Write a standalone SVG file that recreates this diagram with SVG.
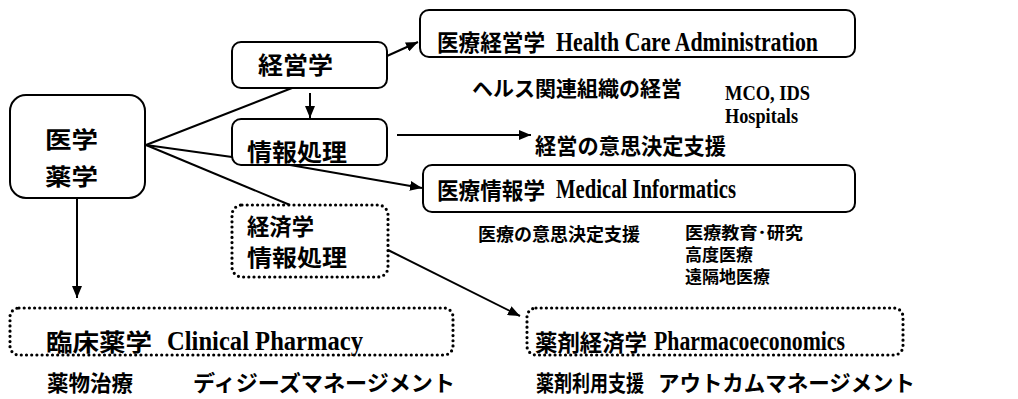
<svg xmlns="http://www.w3.org/2000/svg" width="1018" height="399" viewBox="0 0 1018 399">
<defs>
<marker id="ah" viewBox="0 0 12 10" refX="12" refY="5" markerWidth="12" markerHeight="10" markerUnits="userSpaceOnUse" orient="auto">
<path d="M0,0 L12,5 L0,10 Z" fill="#000"/>
</marker>
<style>
.box{fill:#fff;stroke:#000;stroke-width:2}
.dot{fill:#fff;stroke:#000;stroke-width:3.2;stroke-linecap:round;stroke-dasharray:0 5.2}
.jp{font-family:"Noto Sans CJK JP","Noto Sans CJK SC",sans-serif;font-weight:bold;fill:#000}
.en{font-family:"Liberation Serif","Noto Sans CJK JP",serif;font-weight:bold;fill:#000}
.ln{stroke:#000;stroke-width:2;fill:none}
.ar{stroke:#000;stroke-width:2;fill:none;marker-end:url(#ah)}
</style>
</defs>
<rect width="1018" height="399" fill="#fff"/>
<g id="connectors">
<line class="ln" x1="146" y1="145" x2="292" y2="88"/>
<line class="ln" x1="146" y1="145" x2="232" y2="157"/>
<line class="ln" x1="146" y1="145" x2="290" y2="205"/>
<line class="ar" x1="387" y1="56" x2="418" y2="42"/>
<line class="ar" x1="310" y1="93" x2="310" y2="118"/>
<line class="ar" x1="397" y1="135" x2="531" y2="135"/>
<line class="ar" x1="290" y1="165" x2="422" y2="188"/>
<line class="ar" x1="77" y1="198" x2="77" y2="298"/>
<line class="ar" x1="388" y1="250" x2="520" y2="316"/>
</g>
<g id="n-igaku">
<rect class="box" x="10" y="95" width="135" height="103" rx="16"/>
<text class="jp" x="45" y="148" font-size="23" textLength="53" lengthAdjust="spacingAndGlyphs">医学</text>
<text class="jp" x="45" y="185" font-size="23" textLength="53" lengthAdjust="spacingAndGlyphs">薬学</text>
</g>
<g id="n-keiei">
<rect class="box" x="232" y="42" width="155" height="46" rx="9"/>
<text class="jp" x="258" y="74" font-size="24" textLength="75" lengthAdjust="spacingAndGlyphs">経営学</text>
</g>
<g id="n-joho">
<rect class="box" x="232" y="119" width="155" height="46" rx="9"/>
<text class="jp" x="247" y="161" font-size="24" textLength="100" lengthAdjust="spacingAndGlyphs">情報処理</text>
</g>
<g id="n-keizai">
<rect class="dot" x="232" y="205" width="156" height="72" rx="10"/>
<text class="jp" x="247" y="235" font-size="23" textLength="67" lengthAdjust="spacingAndGlyphs">経済学</text>
<text class="jp" x="247" y="266" font-size="23" textLength="100" lengthAdjust="spacingAndGlyphs">情報処理</text>
</g>
<g id="n-hca">
<rect class="box" x="420" y="10" width="435" height="47" rx="9"/>
<text class="jp" x="437" y="51" font-size="23" textLength="108" lengthAdjust="spacingAndGlyphs">医療経営学</text>
<text class="en" x="556" y="51" font-size="27" textLength="262" lengthAdjust="spacingAndGlyphs">Health Care Administration</text>
</g>
<g id="t-health">
<text class="jp" x="472" y="96" font-size="21" textLength="210" lengthAdjust="spacingAndGlyphs">ヘルス関連組織の経営</text>
<text class="en" x="725" y="100" font-size="22" textLength="85" lengthAdjust="spacingAndGlyphs">MCO, IDS</text>
<text class="en" x="725" y="123" font-size="22" textLength="73" lengthAdjust="spacingAndGlyphs">Hospitals</text>
</g>
<g id="t-keieiishi">
<text class="jp" x="535" y="154" font-size="22" textLength="191" lengthAdjust="spacingAndGlyphs">経営の意思決定支援</text>
</g>
<g id="n-mi">
<rect class="box" x="423" y="165" width="432" height="47" rx="9"/>
<text class="jp" x="437" y="199" font-size="23" textLength="108" lengthAdjust="spacingAndGlyphs">医療情報学</text>
<text class="en" x="556" y="198" font-size="27" textLength="180" lengthAdjust="spacingAndGlyphs">Medical Informatics</text>
</g>
<g id="t-mi">
<text class="jp" x="478" y="241" font-size="18" textLength="162" lengthAdjust="spacingAndGlyphs">医療の意思決定支援</text>
<text class="jp" x="685" y="239" font-size="17" textLength="118" lengthAdjust="spacingAndGlyphs">医療教育･研究</text>
<text class="jp" x="685" y="261" font-size="17" textLength="68" lengthAdjust="spacingAndGlyphs">高度医療</text>
<text class="jp" x="685" y="283" font-size="17" textLength="85" lengthAdjust="spacingAndGlyphs">遠隔地医療</text>
</g>
<g id="n-cp">
<rect class="dot" x="10" y="308" width="443" height="47" rx="9"/>
<text class="jp" x="46" y="351" font-size="24" textLength="106" lengthAdjust="spacingAndGlyphs">臨床薬学</text>
<text class="en" x="167" y="350" font-size="27" textLength="196" lengthAdjust="spacingAndGlyphs">Clinical Pharmacy</text>
</g>
<g id="n-pe">
<rect class="dot" x="527" y="308" width="376" height="47" rx="9"/>
<text class="jp" x="535" y="351" font-size="23" textLength="112" lengthAdjust="spacingAndGlyphs">薬剤経済学</text>
<text class="en" x="654" y="350" font-size="27" textLength="191" lengthAdjust="spacingAndGlyphs">Pharmacoeconomics</text>
</g>
<g id="t-bottom">
<text class="jp" x="47" y="391" font-size="22" textLength="86" lengthAdjust="spacingAndGlyphs">薬物治療</text>
<text class="jp" x="193" y="391" font-size="22" textLength="262" lengthAdjust="spacingAndGlyphs">ディジーズマネージメント</text>
<text class="jp" x="536" y="391" font-size="22" textLength="108" lengthAdjust="spacingAndGlyphs">薬剤利用支援</text>
<text class="jp" x="658" y="391" font-size="22" textLength="257" lengthAdjust="spacingAndGlyphs">アウトカムマネージメント</text>
</g>
</svg>
